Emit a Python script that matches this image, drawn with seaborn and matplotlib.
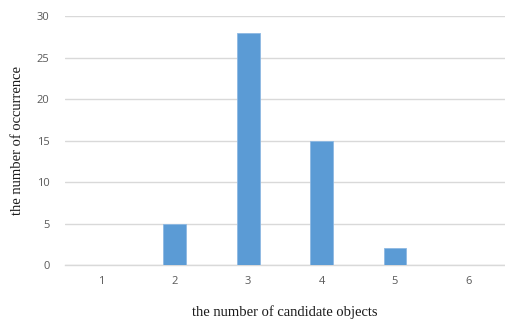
import pandas as pd
import seaborn as sns
import matplotlib.pyplot as plt

# Data
# ==============================================================================
candidates = ['1', '2', '3', '4', '5', '6']
occurrence = [0, 5, 28, 15, 2, 0]
y_ticks = [0, 5, 10, 15, 20, 25, 30]

df = pd.DataFrame({'candidates': candidates, 'occurrence': occurrence})

# Graph
# ==============================================================================
sns.set_style('white')
fig = plt.figure(figsize=(5.06, 3.22), dpi=100)
ax = fig.add_axes([0.128, 0.177, 0.87, 0.773])

sns.barplot(data=df, x='candidates', y='occurrence', order=candidates,
            color='#5B9BD5', saturation=1, width=0.31,
            edgecolor='#8DB8E3', linewidth=0.6, ax=ax, zorder=3)

ax.set_ylim(0, 30)
ax.set_xlim(-0.5, 5.5)
ax.set_yticks(y_ticks)
ax.yaxis.grid(True, color='#D9D9D9', linewidth=1, zorder=0)
ax.set_axisbelow(True)
for side in ['top', 'right', 'left']:
    ax.spines[side].set_visible(False)
ax.spines['bottom'].set_color('#D9D9D9')
ax.spines['bottom'].set_linewidth(1)

ax.tick_params(axis='x', length=0, labelsize=8, labelcolor='#595959', pad=8)
ax.tick_params(axis='y', length=0, labelsize=8, labelcolor='#595959', pad=11)
for lab in ax.get_xticklabels() + ax.get_yticklabels():
    lab.set_family('Open Sans')

ax.set_xlabel('the number of candidate objects', family='Liberation Serif',
              fontsize=10.5, color='#1a1a1a', labelpad=13)
ax.set_ylabel('the number of occurrence', family='Liberation Serif',
              fontsize=10.5, color='#1a1a1a', labelpad=9)

fig.savefig('out.png', dpi=100)
